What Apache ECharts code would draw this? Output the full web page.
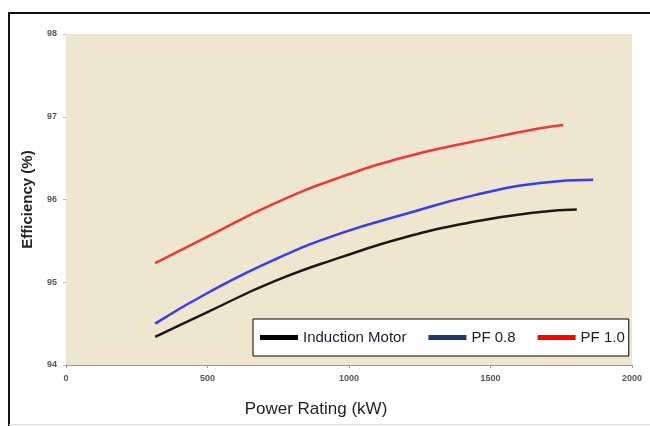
<!DOCTYPE html>
<html>
<head>
<meta charset="utf-8">
<script src="https://cdn.jsdelivr.net/npm/echarts@6/dist/echarts.min.js"></script>
<style>
  html, body { margin: 0; padding: 0; background: #fff; }
  #chart { width: 650px; height: 426px; }
</style>
</head>
<body>
<div id="chart"></div>
<script>
// power rating (kW) -> efficiency (%)
const motorPower = [315, 500, 735, 970, 1205, 1440, 1675, 1805];
const motorEff = [94.34, 94.64, 95.01, 95.30, 95.55, 95.73, 95.85, 95.88];
const pf08Power = [315, 500, 735, 970, 1205, 1440, 1675, 1863];
const pf08Eff = [94.50, 94.87, 95.27, 95.59, 95.83, 96.05, 96.20, 96.24];
const pf10Power = [315, 500, 735, 970, 1205, 1440, 1675, 1757];
const pf10Eff = [95.23, 95.55, 95.95, 96.27, 96.52, 96.70, 96.86, 96.90];
const seriesNames = ['Induction Motor', 'PF 0.8', 'PF 1.0'];

const pairs = (xs, ys) => xs.map((x, i) => [x, ys[i]]);

const chart = echarts.init(document.getElementById('chart'));

const tickLabel = { fontSize: 9, color: '#555', fontFamily: 'Arial', fontWeight: 'bold', formatter: v => String(v) };

const option = {
  backgroundColor: '#fff',
  animation: false,
  grid: {
    left: 66, right: 18, top: 34, bottom: 61,
    show: true, backgroundColor: '#efe6cf', borderWidth: 0
  },
  legend: {
    left: 253, top: 319,
    padding: [11, 4, 11, 7],
    backgroundColor: '#fff', borderColor: '#000', borderWidth: 1,
    itemWidth: 38, itemHeight: 5, itemGap: 22,
    icon: 'rect',
    textStyle: { fontSize: 15, color: '#1b1b2b', fontFamily: 'Liberation Sans' },
    data: [
      { name: seriesNames[0], itemStyle: { color: '#000' } },
      { name: seriesNames[1], itemStyle: { color: '#1f3864' } },
      { name: seriesNames[2], itemStyle: { color: '#ff0000' } }
    ]
  },
  xAxis: {
    type: 'value', min: 0, max: 2000, interval: 500,
    name: 'Power Rating (kW)', nameLocation: 'middle', nameGap: 36,
    nameTextStyle: { fontSize: 17, color: '#222', fontFamily: 'Liberation Sans', padding: [0, 66, 0, 0] },
    axisLine: { show: true, lineStyle: { color: '#999', width: 1 } },
    axisTick: { show: true, length: 3, lineStyle: { color: '#999' } },
    axisLabel: { ...tickLabel, margin: 9 },
    splitLine: { show: false }
  },
  yAxis: {
    type: 'value', min: 94, max: 98, interval: 1,
    name: 'Efficiency (%)', nameLocation: 'middle', nameGap: 31, nameRotate: 90,
    nameTextStyle: { fontSize: 15, fontWeight: 'bold', color: '#222', fontFamily: 'Liberation Sans' },
    axisLine: { show: false },
    axisTick: { show: true, length: 3, lineStyle: { color: '#bbb' } },
    axisLabel: { ...tickLabel, margin: 9 },
    splitLine: { show: false }
  },
  series: [
    { name: seriesNames[0], type: 'line', data: pairs(motorPower, motorEff), smooth: true,
      showSymbol: false, lineStyle: { color: '#1a1a1a', width: 2.5 }, itemStyle: { color: '#000' } },
    { name: seriesNames[1], type: 'line', data: pairs(pf08Power, pf08Eff), smooth: true,
      showSymbol: false, lineStyle: { color: '#3a3af0', width: 2.5 }, itemStyle: { color: '#1f3864' } },
    { name: seriesNames[2], type: 'line', data: pairs(pf10Power, pf10Eff), smooth: true,
      showSymbol: false, lineStyle: { color: '#ec3a3a', width: 2.5 }, itemStyle: { color: '#ff0000' } }
  ],
  graphic: [
    // outer frame of the figure (top and left edges)
    { type: 'line', shape: { x1: 8, y1: 13, x2: 650, y2: 13 }, style: { stroke: '#111', lineWidth: 2 } },
    { type: 'line', shape: { x1: 9, y1: 13, x2: 9, y2: 426 }, style: { stroke: '#111', lineWidth: 2 } },
    { type: 'line', shape: { x1: 9, y1: 424.5, x2: 650, y2: 424.5 }, style: { stroke: '#ddd', lineWidth: 1 } }
  ]
};

chart.setOption(option);
</script>
</body>
</html>
